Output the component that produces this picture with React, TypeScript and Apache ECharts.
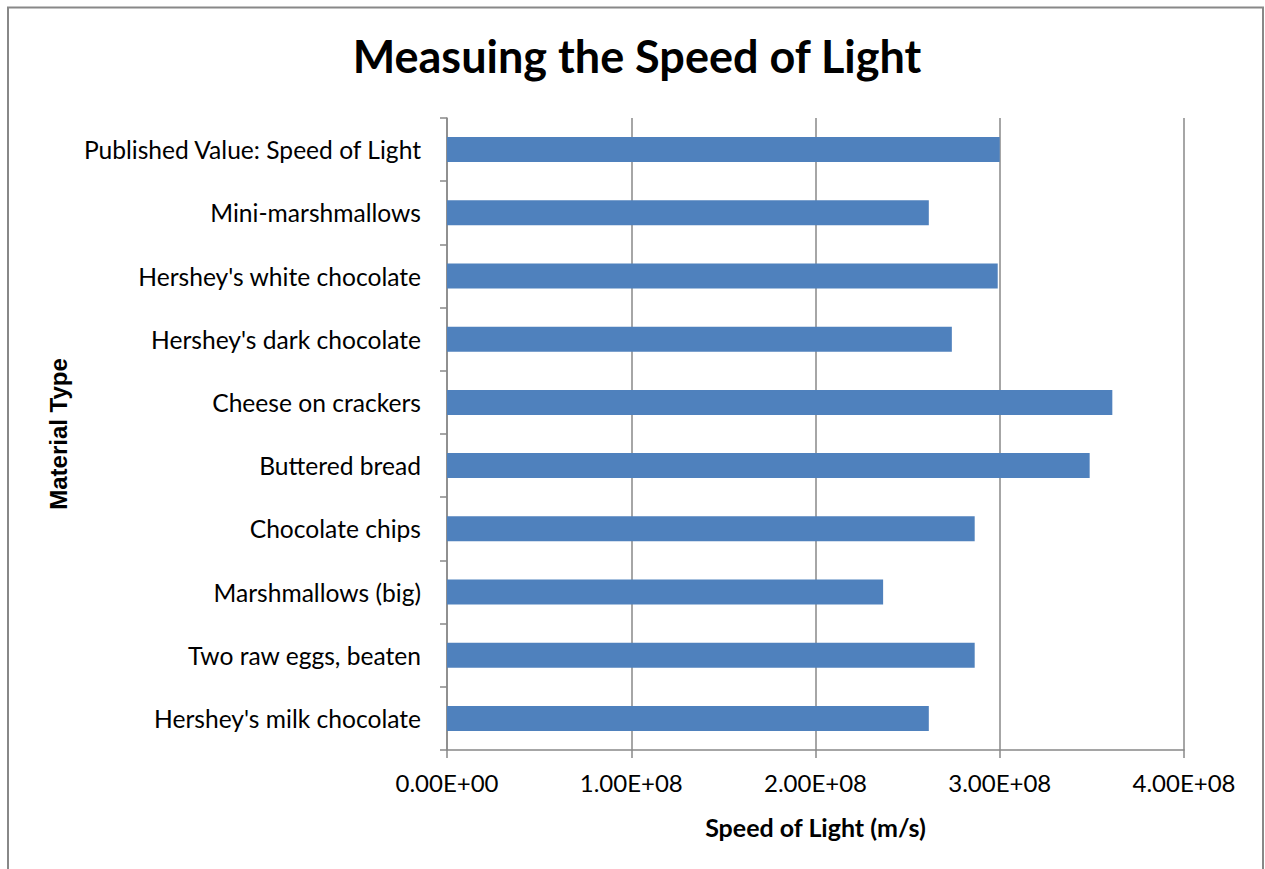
import React, { useEffect, useRef } from "react";
import * as echarts from "echarts";

const categories = [
  "Hershey's milk chocolate",
  "Two raw eggs, beaten",
  "Marshmallows (big)",
  "Chocolate chips",
  "Buttered bread",
  "Cheese on crackers",
  "Hershey's dark chocolate",
  "Hershey's white chocolate",
  "Mini-marshmallows",
  "Published Value: Speed of Light",
];

const speeds = [
  2.615e8, 2.864e8, 2.367e8, 2.864e8, 3.488e8, 3.611e8, 2.74e8, 2.989e8, 2.615e8, 3.0e8,
];

const xTicks = { min: 0, max: 4e8, interval: 1e8 };

const titleText = "Measuing the Speed of Light";
const xName = "Speed of Light (m/s)";
const yName = "Material Type";

function fmtSci(v: number): string {
  if (v === 0) return "0.00E+00";
  const e = Math.floor(Math.log10(v));
  const m = v / Math.pow(10, e);
  return m.toFixed(2) + "E+" + String(e).padStart(2, "0");
}

export default function App() {
  const ref = useRef<HTMLDivElement>(null);
  useEffect(() => {
    if (!ref.current) return;
    const chart = echarts.init(ref.current, null, { renderer: "svg" });
    const gray = "#888888";
    chart.setOption({
      animation: false,
      backgroundColor: "#ffffff",
      title: {
        text: titleText,
        left: 632,
        textAlign: "center",
        top: 28,
        textStyle: {
          fontFamily: "Lato",
          fontWeight: "bold",
          fontSize: 45,
          color: "#000",
        },
      },
      graphic: [
        {
          type: "rect",
          shape: { x: 8, y: 7.5, width: 1255, height: 900 },
          style: { fill: "none", stroke: gray, lineWidth: 2 },
          silent: true,
        },
      ],
      grid: { left: 447, top: 118, right: 81, bottom: 119, containLabel: false },
      xAxis: {
        type: "value",
        min: xTicks.min,
        max: xTicks.max,
        interval: xTicks.interval,
        name: xName,
        nameLocation: "middle",
        nameGap: 64,
        nameTextStyle: {
          fontFamily: "Lato",
          fontWeight: "bold",
          fontSize: 25,
          color: "#000",
        },
        axisLine: { show: true, lineStyle: { color: gray, width: 1.5 } },
        axisTick: { show: true, length: 8, lineStyle: { color: gray, width: 1.5 } },
        splitLine: { show: true, lineStyle: { color: gray, width: 1.5 } },
        axisLabel: {
          formatter: (v: number) => fmtSci(v),
          fontFamily: "Lato",
          fontSize: 24,
          color: "#000",
          margin: 20,
        },
      },
      yAxis: {
        type: "category",
        data: categories,
        name: yName,
        nameLocation: "middle",
        nameGap: 377,
        nameRotate: 90,
        nameTextStyle: {
          fontFamily: "Liberation Sans",
          fontWeight: "bold",
          fontSize: 24,
          color: "#000",
        },
        axisLine: { show: true, lineStyle: { color: gray, width: 1.5 } },
        axisTick: { show: true, length: 7, lineStyle: { color: gray, width: 1.5 } },
        axisLabel: {
          fontFamily: "Lato",
          fontSize: 24.6,
          color: "#000",
          margin: 26,
        },
      },
      series: [
        {
          type: "bar",
          data: speeds,
          barWidth: 25,
          itemStyle: { color: "#4F81BD" },
        },
      ],
    });
    return () => chart.dispose();
  }, []);
  return (
    <div
      ref={ref}
      style={{ position: "fixed", left: 0, top: 0, width: 1265, height: 869 }}
    />
  );
}
